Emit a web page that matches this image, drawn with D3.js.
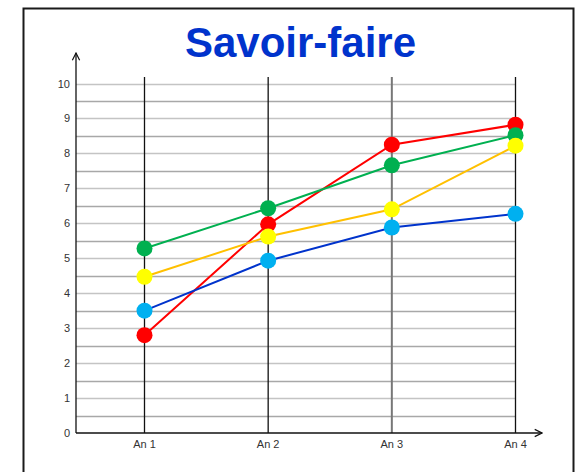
<!DOCTYPE html>
<html>
<head>
    <meta charset="utf-8">
    <title>Savoir-faire</title>
    <script src="https://cdn.jsdelivr.net/npm/d3@7/dist/d3.min.js"></script>
    <style>
        body { margin: 0; background: #fff; }
        text { font-family: "Liberation Sans", Arial, sans-serif; }
    </style>
</head>
<body>
    <script>
        // data
        var years = ["An 1", "An 2", "An 3", "An 4"];
        var red    = [2.8, 5.97, 8.25, 8.82];
        var green  = [5.28, 6.43, 7.66, 8.52];
        var yellow = [4.47, 5.62, 6.4, 8.22];
        var blue   = [3.5, 4.93, 5.88, 6.27];
        var yTicks = [0, 1, 2, 3, 4, 5, 6, 7, 8, 9, 10];

        // drawn in this order, last on top
        var series = [
          {name: "rouge", values: red,    line: "#ff0000", dot: "#ff0000"},
          {name: "vert",  values: green,  line: "#00b050", dot: "#00b050"},
          {name: "jaune", values: yellow, line: "#ffc000", dot: "#ffff00"},
          {name: "bleu",  values: blue,   line: "#0033cc", dot: "#00b0f0"}
        ];

        var width = 577, height = 472;
        var x0 = 76, y0 = 433;

        var x = d3.scalePoint()
                  .domain(years)
                  .range([144.5, 515.5]);

        var y = d3.scaleLinear()
                  .domain([0, 10])
                  .range([y0, 83.5]);

        var svg = d3.select("body").append("svg")
            .attr("width", width)
            .attr("height", height);

        // frame
        svg.append("rect")
            .attr("x", 23.5).attr("y", 8.5)
            .attr("width", 550).attr("height", 480)
            .attr("fill", "none")
            .attr("stroke", "#1a1a1a")
            .attr("stroke-width", 2);

        svg.append("text")
            .attr("x", 300.5).attr("y", 57)
            .attr("text-anchor", "middle")
            .attr("font-size", 42)
            .attr("font-weight", "bold")
            .attr("fill", "#0033cc")
            .text("Savoir-faire");

        // horizontal grid, every half unit
        var grid = d3.range(0.5, 10.01, 0.5);
        svg.selectAll(".grid")
            .data(grid)
            .enter().append("line")
            .attr("x1", x0).attr("x2", x(years[3]))
            .attr("y1", function(d) { return Math.round(y(d)) + 0.5; })
            .attr("y2", function(d) { return Math.round(y(d)) + 0.5; })
            .attr("stroke", function(d) { return d % 1 === 0 ? "#c4c4c4" : "#a8a8a8"; })
            .attr("stroke-width", 1.5);

        // vertical lines at each year
        svg.selectAll(".vline")
            .data(years)
            .enter().append("line")
            .attr("x1", function(d) { return x(d); })
            .attr("x2", function(d) { return x(d); })
            .attr("y1", 77).attr("y2", y0)
            .attr("stroke", function(d, i) { return i === 2 ? "#777" : "#111"; })
            .attr("stroke-width", function(d, i) { return i === 2 ? 2 : 1.3; });

        // arrow heads
        svg.append("defs").append("marker")
            .attr("id", "arrow")
            .attr("viewBox", "0 0 10 10")
            .attr("refX", 9).attr("refY", 5)
            .attr("markerWidth", 7).attr("markerHeight", 7)
            .attr("orient", "auto")
            .append("path")
            .attr("d", "M1,1 L9,5 L1,9")
            .attr("fill", "none")
            .attr("stroke", "#111")
            .attr("stroke-width", 1.3);

        svg.append("line")
            .attr("x1", x0).attr("y1", y0)
            .attr("x2", x0).attr("y2", 53)
            .attr("stroke", "#111").attr("stroke-width", 1.3)
            .attr("marker-end", "url(#arrow)");

        svg.append("line")
            .attr("x1", x0).attr("y1", y0)
            .attr("x2", 542).attr("y2", y0)
            .attr("stroke", "#111").attr("stroke-width", 1.3)
            .attr("marker-end", "url(#arrow)");

        // tick labels
        svg.selectAll(".ylab")
            .data(yTicks)
            .enter().append("text")
            .attr("x", 70)
            .attr("y", function(d) { return y(d) + 4; })
            .attr("text-anchor", "end")
            .attr("font-size", 11)
            .attr("fill", "#333")
            .text(function(d) { return d; });

        svg.selectAll(".xlab")
            .data(years)
            .enter().append("text")
            .attr("x", function(d) { return x(d); })
            .attr("y", 448)
            .attr("text-anchor", "middle")
            .attr("font-size", 11)
            .attr("fill", "#333")
            .text(function(d) { return d; });

        var line = d3.line()
            .x(function(d, i) { return x(years[i]); })
            .y(function(d) { return y(d); });

        series.forEach(function(s) {
          svg.append("path")
              .attr("d", line(s.values))
              .attr("fill", "none")
              .attr("stroke", s.line)
              .attr("stroke-width", 2);
        });

        series.forEach(function(s) {
          svg.selectAll(null)
              .data(s.values)
              .enter().append("circle")
              .attr("cx", function(d, i) { return x(years[i]); })
              .attr("cy", function(d) { return y(d); })
              .attr("r", 8)
              .attr("fill", s.dot);
        });
    </script>
</body>
</html>
